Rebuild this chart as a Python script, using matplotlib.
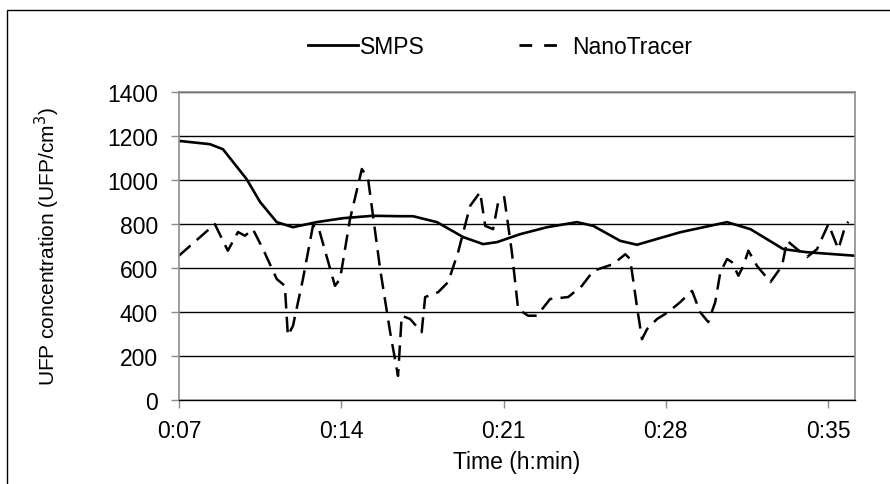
import matplotlib
matplotlib.use("Agg")
import matplotlib.pyplot as plt
from matplotlib.patches import Rectangle
from matplotlib.lines import Line2D

plt.rcParams['font.family'] = ['Liberation Sans', 'DejaVu Sans']

# minutes after 0:00
smps_t = [7.0, 8.34, 8.9, 9.92, 10.5, 11.22, 11.92, 12.94, 14.08, 15.37, 16.54, 17.1,
          18.13, 19.26, 20.12, 20.72, 21.71, 22.88, 24.17, 24.87, 26.03, 26.75, 28.62,
          30.64, 31.65, 33.07, 34.09, 36.17]
smps = [1178, 1163, 1140, 1004, 900, 808, 785, 808, 826, 837, 835, 835,
        808, 740, 708, 717, 753, 785, 808, 791, 723, 705, 762,
        808, 776, 685, 671, 655]

nano_t = [7.00, 8.55, 9.11, 9.55, 9.85, 10.19, 10.63, 11.22, 11.57, 11.70, 11.92, 12.35,
          12.78, 13.00, 13.73, 13.95, 14.38, 14.89, 15.16, 15.68, 16.11, 16.45, 16.61,
          16.97, 17.47, 17.62, 18.18, 18.61, 19.04, 19.56, 19.99, 20.21, 20.55, 20.77,
          21.03, 21.36, 21.63, 22.06, 22.44, 23.01, 23.79, 24.38, 24.87, 25.73, 26.25,
          26.46, 26.75, 26.97, 27.19, 27.62, 28.10, 28.62, 29.13, 29.48, 29.83, 30.13,
          30.35, 30.64, 30.85, 31.13, 31.34, 31.56, 31.93, 32.51, 33.01, 33.23, 33.66,
          34.09, 34.52, 35.01, 35.44, 35.74, 35.87]
nano = [655, 799, 678, 763, 746, 776, 685, 549, 518, 291, 336, 549,
        791, 791, 518, 549, 822, 1050, 1004, 594, 307, 108, 382,
        367, 307, 467, 489, 535, 671, 882, 945, 791, 776, 899,
        922, 671, 412, 382, 382, 458, 467, 518, 586, 617, 662,
        640, 427, 275, 321, 367, 398, 444, 495, 398, 353, 444,
        580, 640, 626, 564, 609, 678, 609, 535, 609, 723, 685,
        649, 685, 799, 685, 791, 810]

x_ticks = [7, 14, 21, 28, 35]
x_labels = ["0:07", "0:14", "0:21", "0:28", "0:35"]
y_ticks = [0, 200, 400, 600, 800, 1000, 1200, 1400]

fig = plt.figure(figsize=(8.9, 4.85), dpi=100)
ax = fig.add_axes([0.201, 0.174, 0.76, 0.634])

# outer chart border
fig.patches.append(Rectangle((0.008, -0.1), 1.1, 1.077, transform=fig.transFigure,
                             fill=False, edgecolor='black', linewidth=1.0))

ax.plot(smps_t, smps, color='black', linewidth=1.9)
ax.plot(nano_t, nano, color='black', linewidth=1.8, dashes=(6.2, 3.3))

ax.set_xlim(7, 36.17)
ax.set_ylim(0, 1400)
ax.set_xticks(x_ticks)
ax.set_xticklabels(x_labels)
ax.set_yticks(y_ticks)
ax.yaxis.grid(True, color='black', linewidth=1.0)
ax.set_axisbelow(True)

for s in ['left', 'top', 'right']:
    ax.spines[s].set_color('#8c8c8c')
    ax.spines[s].set_linewidth(1.2)
ax.spines['bottom'].set_color('black')
ax.spines['bottom'].set_linewidth(1.0)
ax.tick_params(axis='both', labelsize=16.5, color='#8c8c8c', length=6, width=1.0)
ax.tick_params(axis='x', pad=8)
ax.tick_params(axis='y', pad=9)

ax.set_xlabel('Time (h:min)', fontsize=16.5, labelpad=6)
ax.set_ylabel('UFP concentration (UFP/cm$^3$)', fontsize=15)
ax.yaxis.set_label_coords(-0.173, 0.5)

# legend, two entries placed like the original
h_smps = Line2D([], [], color='black', linewidth=2.0)
h_nano = Line2D([], [], color='black', linewidth=2.0, linestyle=(4.6, (4.6, 4.3)))
leg_kw = dict(frameon=False, fontsize=16.5, handlelength=2.18, borderpad=0,
              borderaxespad=0, loc='center left')
fig.legend([h_smps], ['SMPS'], bbox_to_anchor=(308 / 890, 0.903),
           handletextpad=0.1, **leg_kw)
fig.legend([h_nano], ['NanoTracer'], bbox_to_anchor=(507 / 890, 0.903),
           handletextpad=0.65, **leg_kw)

fig.savefig('out.png', dpi=100)
